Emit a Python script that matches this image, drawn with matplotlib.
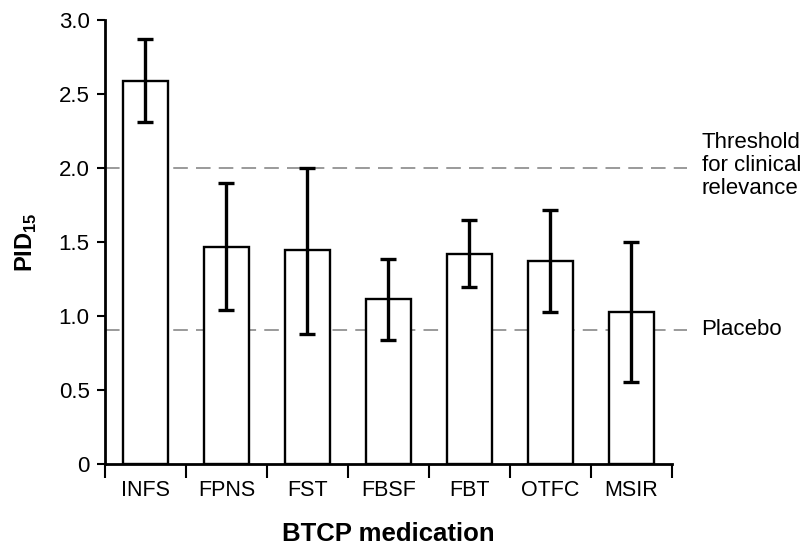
import numpy as np
import matplotlib.pyplot as plt

# =============================================================================
# Data
# =============================================================================

medications = ["INFS", "FPNS", "FST", "FBSF", "FBT", "OTFC", "MSIR"]
pid15_mean = [2.59, 1.47, 1.45, 1.12, 1.42, 1.37, 1.03]
ci_upper = [2.87, 1.90, 2.00, 1.39, 1.65, 1.72, 1.50]
ci_lower = [2.31, 1.04, 0.88, 0.84, 1.20, 1.03, 0.56]

threshold_value = 2.0
placebo_value = 0.91

y_ticks = [0, 0.5, 1.0, 1.5, 2.0, 2.5, 3.0]
y_tick_labels = ["0", "0.5", "1.0", "1.5", "2.0", "2.5", "3.0"]

# =============================================================================
# Figure
# =============================================================================

plt.rcParams["font.family"] = ["Liberation Sans", "DejaVu Sans"]
plt.rcParams["mathtext.fontset"] = "custom"
plt.rcParams["mathtext.rm"] = "Liberation Sans"
plt.rcParams["mathtext.bf"] = "Liberation Sans:bold"

fig = plt.figure(figsize=(8.05, 5.46), dpi=100)
ax = fig.add_axes([0.1304, 0.1493, 0.7043, 0.8141])

positions = np.arange(len(medications))
mean = np.array(pid15_mean)
err_low = mean - np.array(ci_lower)
err_high = np.array(ci_upper) - mean

ax.bar(
    positions,
    mean,
    width=0.55,
    color="white",
    edgecolor="black",
    linewidth=1.7,
    zorder=2,
)

ax.errorbar(
    positions,
    mean,
    yerr=[err_low, err_high],
    fmt="none",
    ecolor="black",
    elinewidth=2.4,
    capsize=5.8,
    capthick=2.4,
    zorder=3,
)

# reference lines run slightly past the right end of the axis
for level in (threshold_value, placebo_value):
    ax.plot(
        [-0.5, 6.69],
        [level, level],
        color="#9a9a9a",
        linewidth=1.4,
        dashes=(7.5, 4.2),
        clip_on=False,
        zorder=1,
    )

ax.text(
    6.87, threshold_value + 0.02, "Threshold\nfor clinical\nrelevance",
    fontsize=16, va="center", ha="left", linespacing=1.12,
)
ax.text(6.86, placebo_value, "Placebo", fontsize=16, va="center", ha="left")

# =============================================================================
# Axes formatting
# =============================================================================

ax.set_xlim(-0.5, len(medications) - 0.5)
ax.set_ylim(0, 3.0)

ax.set_yticks(y_ticks)
ax.set_yticklabels(y_tick_labels)

ax.set_xticks(positions)
ax.set_xticklabels(medications)
ax.set_xticks(np.arange(len(medications) + 1) - 0.5, minor=True)
ax.tick_params(axis="x", which="major", length=0, pad=11, labelsize=15.5)
ax.tick_params(axis="x", which="minor", length=10, width=1.5, direction="out")
ax.tick_params(axis="y", length=6, width=1.5, pad=5, labelsize=16)

for side in ("top", "right"):
    ax.spines[side].set_visible(False)
for side in ("left", "bottom"):
    ax.spines[side].set_linewidth(2.0)

ax.set_xlabel("BTCP medication", fontsize=18.5, fontweight="bold", labelpad=15)
ax.set_ylabel(r"PID$_{\mathbf{15}}$", fontsize=17, fontweight="bold", labelpad=14)

plt.savefig("out.png", dpi=100)
